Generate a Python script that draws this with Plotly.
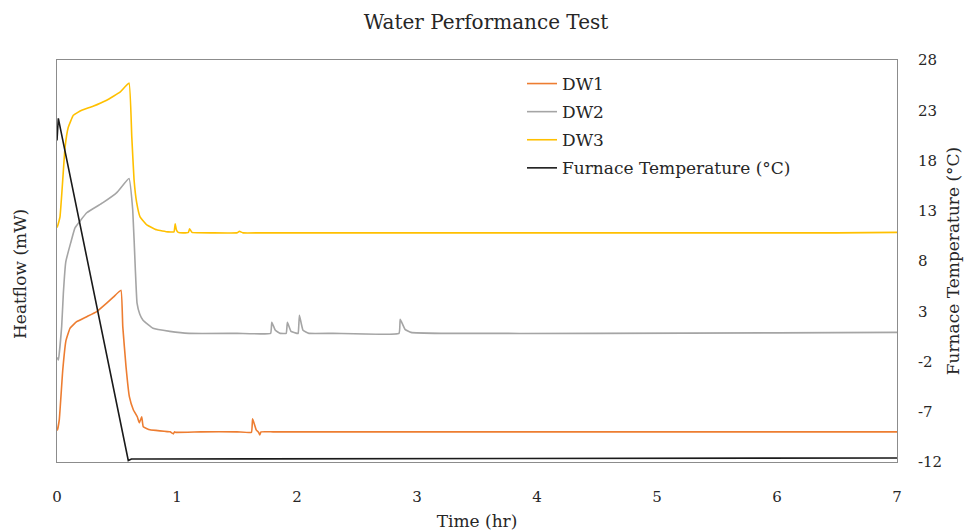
import plotly.graph_objects as go

# ---------------- data ----------------
# DW3 (yellow) heatflow, arbitrary mW scale
t_dw3 = [0.000, 0.003, 0.025, 0.048, 0.067, 0.094, 0.136, 0.206, 0.300, 0.414, 0.525, 0.600,
         0.623, 0.642, 0.664, 0.692, 0.748, 0.831, 0.925, 0.975, 0.985, 0.995, 1.010, 1.050,
         1.095, 1.105, 1.125, 1.300, 1.500, 1.520, 1.550, 1.700, 2.5, 3.5, 4.5, 5.5, 6.5, 7.0]
h_dw3 = [23.4, 23.4, 24.4, 28.1, 31.3, 33.3, 34.5, 35.0, 35.4, 36.0, 36.8, 37.7,
         32.4, 28.1, 25.8, 24.4, 23.6, 23.1, 22.9, 22.9, 23.7, 23.1, 22.85, 22.8,
         22.85, 23.2, 22.85, 22.8, 22.8, 22.95, 22.8, 22.8, 22.8, 22.8, 22.8, 22.8, 22.8, 22.85]

# DW2 (grey) heatflow
t_dw2 = [0.000, 0.003, 0.012, 0.039, 0.053, 0.073, 0.114, 0.150, 0.248, 0.383, 0.498, 0.600,
         0.631, 0.653, 0.667, 0.690, 0.717, 0.800, 0.940, 1.100, 1.500, 1.780, 1.790, 1.820,
         1.860, 1.910, 1.920, 1.950, 2.000, 2.010, 2.020, 2.050, 2.100, 2.300, 2.850, 2.860,
         2.900, 2.950, 3.200, 4.5, 6.0, 7.0]
h_dw2 = [10.3, 10.35, 10.15, 13.5, 16.8, 19.9, 21.8, 23.3, 24.8, 25.8, 26.8, 28.2,
         25.1, 19.1, 15.8, 14.7, 14.1, 13.3, 13.0, 12.8, 12.8, 12.8, 13.9, 13.1,
         12.8, 12.8, 13.9, 13.0, 12.8, 12.8, 14.6, 13.1, 12.8, 12.8, 12.8, 14.2,
         13.2, 12.9, 12.8, 12.8, 12.85, 12.9]

# DW1 (orange) heatflow
t_dw1 = [0.000, 0.003, 0.019, 0.048, 0.075, 0.108, 0.164, 0.248, 0.331, 0.414, 0.469, 0.533,
         0.548, 0.575, 0.603, 0.636, 0.669, 0.686, 0.706, 0.719, 0.775, 0.942, 0.970, 0.980,
         0.990, 1.200, 1.500, 1.620, 1.630, 1.660, 1.680, 1.690, 1.700, 1.800, 2.500, 3.400,
         5.0, 7.0]
h_dw1 = [3.2, 3.2, 4.2, 9.15, 12.1, 13.3, 13.96, 14.46, 14.96, 15.8, 16.4, 17.1,
         13.5, 9.5, 6.5, 5.2, 4.5, 3.9, 4.5, 3.5, 3.2, 3.0, 2.8, 3.0,
         2.95, 3.0, 3.0, 2.95, 4.3, 3.2, 2.95, 2.7, 3.0, 3.0, 3.0, 3.0,
         3.0, 3.0]

# Furnace temperature (°C)
t_furn = [0.000, 0.011, 0.594, 0.620, 0.730, 7.0]
T_furn = [20.0, 22.2, -11.85, -11.7, -11.7, -11.6]

x_ticks = [0, 1, 2, 3, 4, 5, 6, 7]
temp_ticks = [-12, -7, -2, 3, 8, 13, 18, 23, 28]
temp_tick_text = ["-12", "-7", "-2", "3", "8", "13", "18", "23", "28"]

FONT = "DejaVu Serif"
TXT = "#262626"

fig = go.Figure()
fig.add_trace(go.Scatter(x=t_dw1, y=h_dw1, mode="lines", name="DW1", legendgroup="a",
                         line=dict(color="#ED7D31", width=1.6, shape="spline", smoothing=0.3),
                         yaxis="y"))
fig.add_trace(go.Scatter(x=t_dw2, y=h_dw2, mode="lines", name="DW2", legendgroup="b",
                         line=dict(color="#A5A5A5", width=1.6, shape="spline", smoothing=0.3),
                         yaxis="y"))
fig.add_trace(go.Scatter(x=t_dw3, y=h_dw3, mode="lines", name="DW3", legendgroup="c",
                         line=dict(color="#FFC000", width=1.6, shape="spline", smoothing=0.3),
                         yaxis="y"))
fig.add_trace(go.Scatter(x=t_furn, y=T_furn, mode="lines", name="Furnace Temperature (°C)",
                         legendgroup="d", line=dict(color="#1a1a1a", width=1.6), yaxis="y2"))

axis_line = "#8c8c8c"
fig.update_layout(
    width=967, height=532,
    margin=dict(l=57, r=70, t=60, b=70),
    paper_bgcolor="white", plot_bgcolor="white",
    font=dict(family=FONT, size=17, color=TXT),
    title=dict(text="Water Performance Test", x=486 / 967, xanchor="center",
               y=1 - 22 / 532, yanchor="middle", xref="container", yref="container",
               font=dict(family=FONT, size=20, color=TXT)),
    xaxis=dict(range=[0, 7], tickvals=x_ticks, showgrid=False, zeroline=False,
               showline=True, linecolor=axis_line, linewidth=1, mirror=True,
               ticks="outside", ticklen=21, tickcolor="rgba(0,0,0,0)",
               tickfont=dict(size=15), automargin=False,
               title=dict(text="Time (hr)", standoff=10, font=dict(size=17))),
    yaxis=dict(range=[0, 40], showticklabels=False, showgrid=False, zeroline=False,
               showline=True, linecolor=axis_line, linewidth=1, mirror=True,
               ticks="", automargin=False),
    yaxis2=dict(range=[-12, 28], tickvals=temp_ticks, ticktext=temp_tick_text,
                overlaying="y", side="right",
                showgrid=False, zeroline=False, showline=False,
                ticks="outside", ticklen=17, tickcolor="rgba(0,0,0,0)",
                tickfont=dict(size=15), automargin=False,
                title=dict(text="Furnace Temperature (°C)", standoff=5, font=dict(size=17))),
    legend=dict(x=(522 - 57) / 840, y=1 - (66 - 60) / 402, xanchor="left", yanchor="top",
                bgcolor="rgba(0,0,0,0)", itemwidth=30, tracegroupgap=3,
                traceorder="grouped",
                font=dict(family=FONT, size=17, color=TXT)),
    showlegend=True,
    annotations=[dict(text="Heatflow (mW)", textangle=-90, xref="paper", yref="paper",
                      x=(20 - 57) / 840, y=(462 - 274) / 402, xanchor="center", yanchor="middle",
                      showarrow=False, font=dict(family=FONT, size=17, color=TXT))],
)

fig.write_html("out.html")
